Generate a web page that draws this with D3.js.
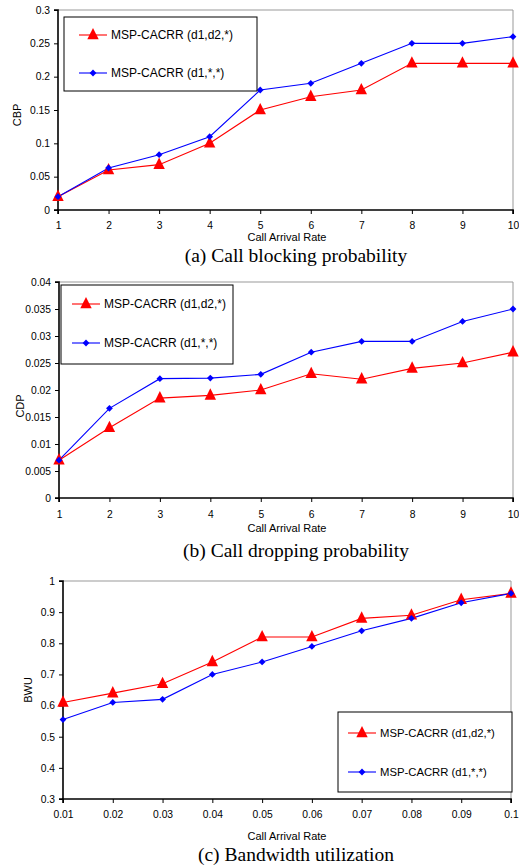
<!DOCTYPE html>
<html>
<head>
<meta charset="utf-8">
<script src="https://cdn.jsdelivr.net/npm/d3@7"></script>
<style>
  body { margin: 0; background: #fff; }
  svg text { font-family: "Liberation Sans", Arial, sans-serif; fill: #000; }
  .cap { font-family: "Liberation Serif", "Times New Roman", serif; }
</style>
</head>
<body>
<svg id="fig" width="519" height="867"></svg>
<script>
var rates = [1, 2, 3, 4, 5, 6, 7, 8, 9, 10],
    ratesBW = [0.01, 0.02, 0.03, 0.04, 0.05, 0.06, 0.07, 0.08, 0.09, 0.1],
    seriesNames = ["MSP-CACRR (d1,d2,*)", "MSP-CACRR (d1,*,*)"],
    cbpRed = [0.02, 0.06, 0.068, 0.1, 0.15, 0.17, 0.18, 0.22, 0.22, 0.22],
    cbpBlue = [0.02, 0.063, 0.083, 0.11, 0.18, 0.19, 0.22, 0.25, 0.25, 0.26],
    cdpRed = [0.007, 0.013, 0.0185, 0.019, 0.02, 0.023, 0.022, 0.024, 0.025, 0.027],
    cdpBlue = [0.007, 0.0166, 0.0221, 0.0222, 0.0229, 0.027, 0.029, 0.029, 0.0327, 0.035],
    bwuRed = [0.61, 0.64, 0.67, 0.74, 0.82, 0.82, 0.88, 0.89, 0.94, 0.96],
    bwuBlue = [0.555, 0.61, 0.62, 0.70, 0.74, 0.79, 0.84, 0.88, 0.93, 0.96],
    cbpTicks = [0, 0.05, 0.1, 0.15, 0.2, 0.25, 0.3],
    cdpTicks = [0, 0.005, 0.01, 0.015, 0.02, 0.025, 0.03, 0.035, 0.04],
    bwuTicks = [0.3, 0.4, 0.5, 0.6, 0.7, 0.8, 0.9, 1];

var svg = d3.select("#fig"),
    red = "#ff0000",
    blue = "#0000ff",
    tickFs = 10.3;

function triangle(g, x, y, s) {
    g.append("path")
        .attr("d", "M" + x + "," + (y - s * 0.75) + "L" + (x + s * 0.6) + "," + (y + s * 0.45) + "L" + (x - s * 0.6) + "," + (y + s * 0.45) + "Z")
        .attr("fill", red);
}
function diamond(g, x, y, s) {
    g.append("path")
        .attr("d", "M" + x + "," + (y - s) + "L" + (x + s) + "," + y + "L" + x + "," + (y + s) + "L" + (x - s) + "," + y + "Z")
        .attr("fill", blue);
}

function panel(o) {
    var g = svg.append("g");
    var x = d3.scaleLinear().domain([o.xs[0], o.xs[o.xs.length - 1]]).range([o.left, o.right]);
    var y = d3.scaleLinear().domain([o.yt[0], o.yt[o.yt.length - 1]]).range([o.bottom, o.top]);

    // gray frame on top and right
    g.append("path")
        .attr("d", "M" + o.left + "," + o.top + "H" + o.right + "V" + o.bottom)
        .attr("fill", "none").attr("stroke", "#999").attr("stroke-width", 1);

    var ya = g.append("g").attr("transform", "translate(" + o.left + ",0)")
        .call(d3.axisLeft(y).tickValues(o.yt).tickSize(4).tickPadding(4).tickFormat(d => d3.format("~g")(+d.toFixed(4))));
    var xa = g.append("g").attr("transform", "translate(0," + o.bottom + ")")
        .call(d3.axisBottom(x).tickValues(o.xs).tickSize(4).tickPadding(o.xpad).tickFormat(d => d3.format("~g")(+d.toFixed(3))));
    [ya, xa].forEach(function (a) {
        a.select(".domain").attr("stroke", "#000").attr("stroke-width", 1.6);
        a.selectAll(".tick line").attr("stroke", "#000");
        a.selectAll("text").style("font-size", tickFs + "px").attr("fill", "#000")
            .style("font-family", "Liberation Sans, Arial, sans-serif");
    });
    ya.select(".domain").attr("d", "M-4," + o.bottom + "H0V" + o.top + "H-4");
    xa.select(".domain").attr("d", "M" + o.left + ",4V0H" + o.right + "V4");

    // y title
    g.append("text").attr("transform", "translate(" + o.ytx + "," + o.yty + ") rotate(-90)")
        .attr("text-anchor", "middle").attr("dy", "0.35em").style("font-size", "11px").text(o.ytitle);
    // x title
    g.append("text").attr("x", 287).attr("y", o.xty)
        .attr("text-anchor", "middle").style("font-size", "11px").text("Call Arrival Rate");
    // caption
    g.append("text").attr("class", "cap").attr("x", 296).attr("y", o.capy)
        .attr("text-anchor", "middle").style("font-size", "19.5px").text(o.caption);

    var line = d3.line().x((d, i) => x(o.xs[i])).y(d => y(d));
    g.append("path").datum(o.red).attr("d", line).attr("fill", "none").attr("stroke", red).attr("stroke-width", 1.1);
    g.append("path").datum(o.blue).attr("d", line).attr("fill", "none").attr("stroke", blue).attr("stroke-width", 1.1);
    o.red.forEach((d, i) => triangle(g, x(o.xs[i]), y(d), 9.5));
    o.blue.forEach((d, i) => diamond(g, x(o.xs[i]), y(d), 3.4));

    // legend
    var L = o.leg;
    g.append("rect").attr("x", L.x).attr("y", L.y).attr("width", L.w).attr("height", L.h)
        .attr("fill", "#fff").attr("stroke", "#000").attr("stroke-width", 1);
    [L.y1, L.y2].forEach(function (ly, k) {
        g.append("line").attr("x1", L.lx).attr("x2", L.lx + 28).attr("y1", ly).attr("y2", ly)
            .attr("stroke", k == 0 ? red : blue).attr("stroke-width", 1.1);
        if (k == 0) triangle(g, L.lx + 14, ly, 9.5);
        else diamond(g, L.lx + 14, ly, 3.4);
        g.append("text").attr("x", L.lx + 32).attr("y", ly).attr("dy", "0.36em")
            .style("font-size", L.fs + "px").text(seriesNames[k]);
    });
}

panel({
    xs: rates, yt: cbpTicks, red: cbpRed, blue: cbpBlue,
    left: 58, right: 513, top: 10, bottom: 210, xpad: 7.5,
    ytitle: "CBP", ytx: 17, yty: 115, xty: 241, capy: 262,
    caption: "(a) Call blocking probability",
    leg: { x: 64, y: 17, w: 193, h: 74, lx: 79, y1: 35, y2: 73, fs: 12 }
});
panel({
    xs: rates, yt: cdpTicks, red: cdpRed, blue: cdpBlue,
    left: 59, right: 513, top: 282, bottom: 498, xpad: 8.5,
    ytitle: "CDP", ytx: 20, yty: 406, xty: 532, capy: 557,
    caption: "(b) Call dropping probability",
    leg: { x: 61, y: 285, w: 172, h: 79, lx: 72, y1: 304, y2: 343, fs: 12 }
});
panel({
    xs: ratesBW, yt: bwuTicks, red: bwuRed, blue: bwuBlue,
    left: 63, right: 511, top: 581, bottom: 799, xpad: 7.5,
    ytitle: "BWU", ytx: 28, yty: 690, xty: 840, capy: 861,
    caption: "(c) Bandwidth utilization",
    leg: { x: 338, y: 712, w: 174, h: 80, lx: 348, y1: 733, y2: 772, fs: 11.3 }
});
</script>
</body>
</html>
